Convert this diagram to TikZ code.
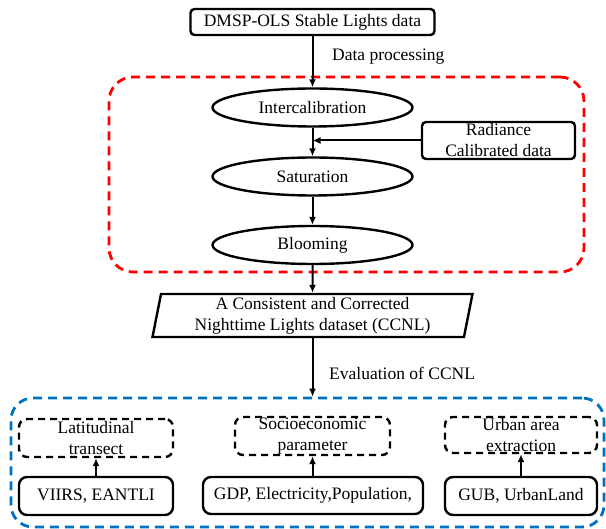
\documentclass[tikz,border=0pt]{standalone}
\usepackage{fontspec}
\setmainfont{Liberation Serif}
\newfontfamily\tnr{Liberation Serif}
\usetikzlibrary{shapes.geometric,arrows.meta}
\definecolor{myred}{RGB}{255,0,0}
\definecolor{myblue}{RGB}{0,112,192}
\begin{document}
\begin{tikzpicture}[x=1pt,y=-1pt,
  every node/.style={font=\tnr\fontsize{17.5}{21}\selectfont, inner sep=0pt, align=center},
  solidbox/.style={draw, line width=2.4pt, rounded corners=4pt},
  dashbox/.style={draw, line width=2.4pt, rounded corners=8pt, dash pattern=on 7pt off 5pt},
  botbox/.style={draw, line width=2.4pt, rounded corners=8pt},
  oval/.style={draw, ellipse, line width=2.4pt, minimum width=200pt, minimum height=38pt},
  redframe/.style={draw=myred, line width=2.8pt, rounded corners=24pt, dash pattern=on 9pt off 6pt},
  blueframe/.style={draw=myblue, line width=2.8pt, rounded corners=22pt, dash pattern=on 9pt off 6pt},
  arr/.style={-{Latex[length=8pt,width=7pt]}, line width=2pt}
]
\useasboundingbox (0,0) rectangle (606,529);

% containers
\node[redframe, minimum width=475pt, minimum height=195pt] (redbox) at (346.5,174.5) {};
\node[blueframe, minimum width=593pt, minimum height=129pt] (bluebox) at (307.5,462.5) {};

% main column
\node[solidbox, minimum width=244pt, minimum height=26pt] (top) at (312.5,22) {DMSP-OLS Stable Lights data};
\node[anchor=west] (dp) at (332,57) {Data processing};
\node[oval] (int) at (312.5,107.5) {Intercalibration};
\node[solidbox, minimum width=153pt, minimum height=37pt] (rad) at (498.5,140.5) {Radiance\\Calibrated data};
\node[oval] (sat) at (312.5,176.5) {Saturation};
\node[oval] (bloom) at (312.5,245) {Blooming};
\node[draw, line width=2.4pt, trapezium, trapezium left angle=77, trapezium right angle=103,
      trapezium stretches body, minimum width=320pt, minimum height=43pt] (ccnl) at (312.5,315.5)
      {A Consistent and Corrected\\Nighttime Lights dataset (CCNL)};
\node[anchor=west] (ev) at (329,373) {Evaluation of CCNL};

% bottom groups
\node[dashbox, minimum width=154pt, minimum height=38pt] (lat) at (96,438) {Latitudinal\\transect};
\node[botbox, minimum width=154pt, minimum height=38pt] (viirs) at (96,496) {VIIRS, EANTLI};
\node[dashbox, minimum width=155pt, minimum height=38pt] (socio) at (312.5,436) {Socioeconomic\\parameter};
\node[botbox, minimum width=220pt, minimum height=37pt] (gdp) at (313,495.5) {GDP, Electricity,Population,};
\node[dashbox, minimum width=152pt, minimum height=36pt] (urban) at (521,435) {Urban area\\extraction};
\node[botbox, minimum width=152pt, minimum height=38pt] (gub) at (521,496) {GUB, UrbanLand};

% connectors
\draw[arr] (top.south) -- (int.north);
\draw[arr] (int.south) -- (sat.north);
\draw[arr] (rad.west) -- (rad.west -| int.south);
\draw[arr] (sat.south) -- (bloom.north);
\draw[arr] (bloom.south) -- (ccnl.north);
\draw[arr] (ccnl.south) -- (ccnl.south |- bluebox.north);
\draw[arr] (viirs.north) -- (lat.south);
\draw[arr] (gdp.north -| socio.south) -- (socio.south);
\draw[arr] (gub.north) -- (urban.south);
\end{tikzpicture}
\end{document}
